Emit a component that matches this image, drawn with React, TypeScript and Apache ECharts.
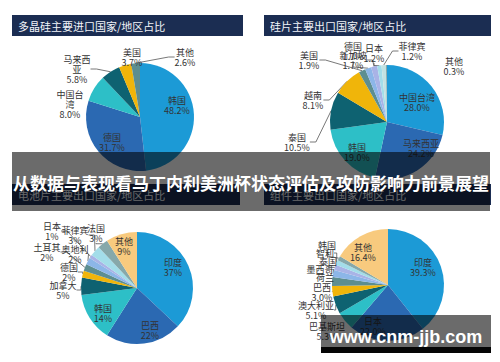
import React, { useEffect, useRef } from 'react';
import * as echarts from 'echarts';

// ---- data ----
const pie1Names = ['韩国', '德国', '中国台湾', '马来西亚', '美国', '其他'];
const pie1Values = [48.2, 31.7, 8.0, 5.8, 3.7, 2.6];

const pie2Names = ['中国台湾', '马来西亚', '韩国', '泰国', '越南', '美国', '德国', '新加坡', '日本', '菲律宾', '其他'];
const pie2Values = [28.0, 24.2, 19.0, 10.5, 8.1, 1.9, 1.7, 1.7, 1.2, 1.2, 0.3];

const pie3Names = ['印度', '巴西', '韩国', '加拿大', '德国', '土耳其', '奥地利', '日本', '菲律宾', '法国', '其他'];
const pie3Values = [37, 22, 14, 5, 2, 2, 2, 1, 3, 3, 9];

const pie4Names = ['印度', '日本', '巴基斯坦', '澳大利亚', '巴西', '荷兰', '墨西哥', '泰国', '智利', '韩国', '其他'];
const pie4Values = [39.3, 22.0, 5.3, 5.1, 3.0, 2.6, 2.0, 1.6, 1.4, 1.3, 16.4];

const titles = [
  '多晶硅主要进口国家/地区占比',
  '硅片主要出口国家/地区占比',
  '电池片主要出口国家/地区占比',
  '组件主要出口国家/地区占比',
];
const bannerText = '从数据与表现看马丁内利美洲杯状态评估及攻防影响力前景展望';
const watermarkText = 'www.cnm-jjb.com';

// ---- styles / layout ----
const C = {
  blue: '#1c9ad6', mid: '#2b69b2', turq: '#2dbfc7', teal: '#0e6271', gold: '#f0b50a',
  grayTeal: '#5d8e90', lightBlue: '#8cb6e8', lavender: '#a9b3e6', lightCyan: '#a3dde9',
  gray: '#86a8aa', peach: '#f8ca7e', pale: '#c3e2e2',
};
const colors1 = [C.blue, C.mid, C.turq, C.teal, C.gold, C.grayTeal];
const colors2 = [C.blue, C.mid, C.turq, C.teal, C.gold, C.grayTeal, C.lightBlue, C.lavender, C.lightCyan, C.pale, C.gray];
const colors3 = [C.blue, C.mid, C.turq, C.teal, C.gold, C.grayTeal, C.lightBlue, C.lavender, C.lightCyan, C.gray, C.peach];
const colors4 = [C.blue, C.mid, C.turq, C.teal, C.gold, C.grayTeal, C.lightBlue, C.lavender, C.lightCyan, C.gray, C.peach];

const pos1 = [[177, 105], [112, 142], [70, 104], [77, 69], [132, 57], [185, 57]];
const line1 = [false, false, false, true, true, true];
const pos2 = [[417, 102], [421, 148], [357, 152], [297, 142], [313, 100], [309, 60], [353, 51], [353, 60], [374, 53], [412, 51], [454, 66]];
const line2 = [false, false, false, true, true, true, true, true, true, true, false];
const pos3 = [[173, 267], [150, 330], [103, 313], [63, 290], [69, 272], [47, 252], [75, 254], [52, 231], [75, 235], [96, 233], [124, 246]];
const line3 = [false, false, false, true, true, true, true, true, true, true, false];
const pos4 = [[423, 267], [373, 326], [327, 331], [316, 310], [322, 292], [325, 277], [320, 269], [328, 261], [325, 253], [327, 245], [363, 252]];
const line4 = [false, false, false, true, true, true, true, true, true, true, false];
const nameOnly4 = [false, false, false, false, false, true, true, true, true, true, false];

const FONT = '"Noto Sans CJK SC", "Noto Sans", sans-serif';

function makePie(
  names: string[], values: number[], colors: string[], center: number[], radius: number,
  pos: number[][], lines: boolean[], decimals: number,
  wrap: Record<string, string> = {}, nameOnly: boolean[] = []
) {
  return {
    type: 'pie',
    center,
    radius,
    startAngle: 90,
    clockwise: true,
    avoidLabelOverlap: false,
    emphasis: { disabled: true },
    label: {
      show: true,
      fontSize: 9,
      lineHeight: 10,
      color: '#333',
      fontFamily: FONT,
      formatter: (p: any) => {
        const n = wrap[p.name] || p.name;
        if (nameOnly[p.dataIndex]) return n;
        return `${n}\n${Number(p.value).toFixed(decimals)}%`;
      },
    },
    labelLine: { show: true, length: 6, length2: 6, lineStyle: { color: '#555', width: 0.8 } },
    labelLayout: (p: any) => {
      const q = pos[p.dataIndex];
      return { x: q[0], y: q[1], align: 'center', verticalAlign: 'middle' };
    },
    data: names.map((n, i) => ({
      name: n,
      value: values[i],
      itemStyle: { color: colors[i] },
      labelLine: { show: lines[i] },
    })),
  };
}

function titleBar(x: number, y: number, w: number, text: string) {
  return [
    { type: 'rect', shape: { x, y, width: w, height: 21 }, style: { fill: '#1b2d52' }, z: 10 },
    {
      type: 'text', x: x + 6, y: y + 10.5, z: 11,
      style: {
        text, fill: '#f2f4f8', font: `11px ${FONT}`,
        textAlign: 'left', textVerticalAlign: 'middle', align: 'left', verticalAlign: 'middle',
      },
    },
  ];
}

export default function App() {
  const ref = useRef<HTMLDivElement>(null);
  useEffect(() => {
    if (!ref.current) return;
    const chart = echarts.init(ref.current, undefined, { renderer: 'svg' });
    chart.setOption({
      animation: false,
      backgroundColor: '#ffffff',
      series: [
        makePie(pie1Names, pie1Values, colors1, [140, 117], 54, pos1, line1, 1,
          { '中国台湾': '中国台\n湾', '马来西亚': '马来西\n亚' }),
        makePie(pie2Names, pie2Values, colors2, [387, 122], 57, pos2, line2, 1),
        makePie(pie3Names, pie3Values, colors3, [137, 288], 56, pos3, line3, 0),
        makePie(pie4Names, pie4Values, colors4, [388, 285], 56, pos4, line4, 1, {}, nameOnly4),
      ],
      graphic: [
        ...titleBar(12, 15, 231, titles[0]),
        ...titleBar(264, 15, 227, titles[1]),
        ...titleBar(12, 184, 228, titles[2]),
        ...titleBar(264, 184, 227, titles[3]),
        { type: 'rect', shape: { x: 12, y: 152, width: 478, height: 59 }, style: { fill: 'rgba(0,0,0,0.58)' }, z: 100 },
        {
          type: 'text', x: 251, y: 182, z: 101,
          style: {
            text: bannerText, fill: '#ffffff', font: `bold 17px ${FONT}`,
            textAlign: 'center', textVerticalAlign: 'middle', align: 'center', verticalAlign: 'middle',
          },
        },
        { type: 'rect', shape: { x: 321, y: 315, width: 170, height: 32 }, style: { fill: 'rgba(0,0,0,0.58)' }, z: 100 },
        { type: 'rect', shape: { x: 321, y: 347, width: 170, height: 6 }, style: { fill: '#050505' }, z: 100 },
        {
          type: 'text', x: 406, y: 337, z: 101,
          style: {
            text: watermarkText, fill: '#ffffff', font: `bold 18px "Liberation Sans", Arial, sans-serif`,
            textAlign: 'center', textVerticalAlign: 'middle', align: 'center', verticalAlign: 'middle',
          },
        },
      ],
    });
    return () => chart.dispose();
  }, []);
  return <div ref={ref} style={{ position: 'absolute', left: 0, top: 0, width: 500, height: 362 }} />;
}
